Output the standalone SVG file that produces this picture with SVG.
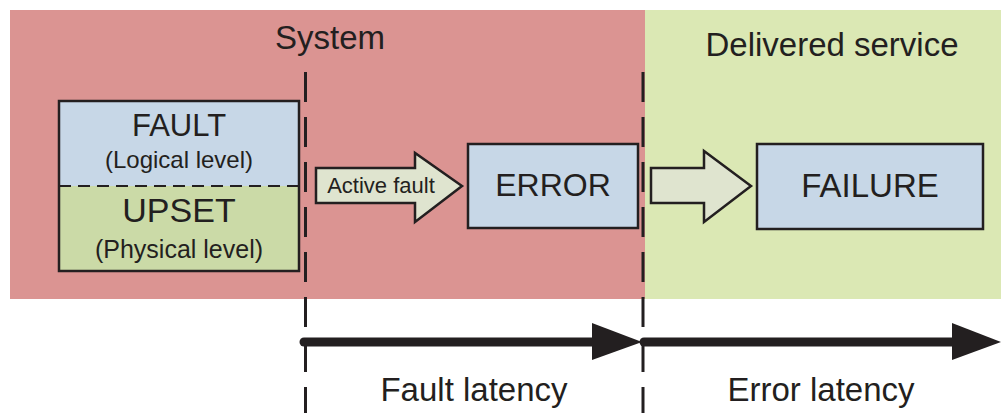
<svg xmlns="http://www.w3.org/2000/svg" width="1001" height="413" viewBox="0 0 1001 413">
  <defs>
    <style>
      .txt { font-family: "Liberation Sans", Arial, sans-serif; fill: #231f20; text-anchor: middle; }
      .box { stroke: #231f20; stroke-width: 2.5; }
      .blockarrow { fill: #dfe4cf; stroke: #231f20; stroke-width: 2.5; stroke-linejoin: miter; }
      .bound { stroke: #231f20; stroke-width: 3; stroke-dasharray: 30 15; fill: none; }
      .timeline { stroke: #231f20; stroke-width: 9; stroke-linecap: round; fill: none; }
      .head { fill: #231f20; }
    </style>
  </defs>

  <rect width="1001" height="413" fill="#ffffff"/>

  <!-- Domains -->
  <g id="system-area">
    <rect x="10" y="10" width="635" height="289" fill="#db9492"/>
    <text class="txt" x="330" y="49" font-size="33">System</text>
  </g>
  <g id="service-area">
    <rect x="645" y="10" width="356" height="289" fill="#dbe8b4"/>
    <text class="txt" x="832" y="56" font-size="33">Delivered service</text>
  </g>

  <!-- Fault / upset node -->
  <g id="fault-upset">
    <rect x="59" y="101" width="240" height="85" fill="#c7d7e7"/>
    <rect x="59" y="186" width="240" height="85" fill="#cbdaa7"/>
    <line x1="59" y1="186" x2="299" y2="186" stroke="#231f20" stroke-width="2" stroke-dasharray="12 7"/>
    <rect class="box" x="59" y="101" width="240" height="170" fill="none"/>
    <text class="txt" x="179" y="136" font-size="31">FAULT</text>
    <text class="txt" x="179" y="168" font-size="24">(Logical level)</text>
    <text class="txt" x="179" y="222" font-size="34">UPSET</text>
    <text class="txt" x="179" y="258" font-size="25">(Physical level)</text>
  </g>

  <!-- Error node -->
  <g id="error">
    <rect class="box" x="468" y="144" width="170" height="84" fill="#c7d7e7"/>
    <text class="txt" x="553" y="196" font-size="32">ERROR</text>
  </g>

  <!-- Failure node -->
  <g id="failure">
    <rect class="box" x="757" y="144" width="226" height="85" fill="#c7d7e7"/>
    <text class="txt" x="870" y="197" font-size="33">FAILURE</text>
  </g>

  <!-- Connectors -->
  <g id="connectors">
    <path class="blockarrow" d="M316 168 H415 V153 L462 186 L415 222 V203 H316 Z"/>
    <text class="txt" x="381" y="193" font-size="22">Active fault</text>
    <path class="blockarrow" d="M651 168 H704 V151 L751 186 L704 222 V203 H651 Z"/>

    <!-- Boundaries -->
    <line class="bound" x1="305.5" y1="72" x2="305.5" y2="413"/>
    <line class="bound" x1="643" y1="72" x2="643" y2="413"/>

    <!-- Latency timelines -->
    <line class="timeline" x1="304" y1="342" x2="600" y2="342"/>
    <path class="head" d="M592 323 L642 342 L592 360 Z"/>
    <line class="timeline" x1="644" y1="342" x2="960" y2="342"/>
    <path class="head" d="M952 323 L1001 342 L952 360 Z"/>
    <text class="txt" x="474" y="401" font-size="33">Fault latency</text>
    <text class="txt" x="821" y="401" font-size="33">Error latency</text>
  </g>
</svg>
